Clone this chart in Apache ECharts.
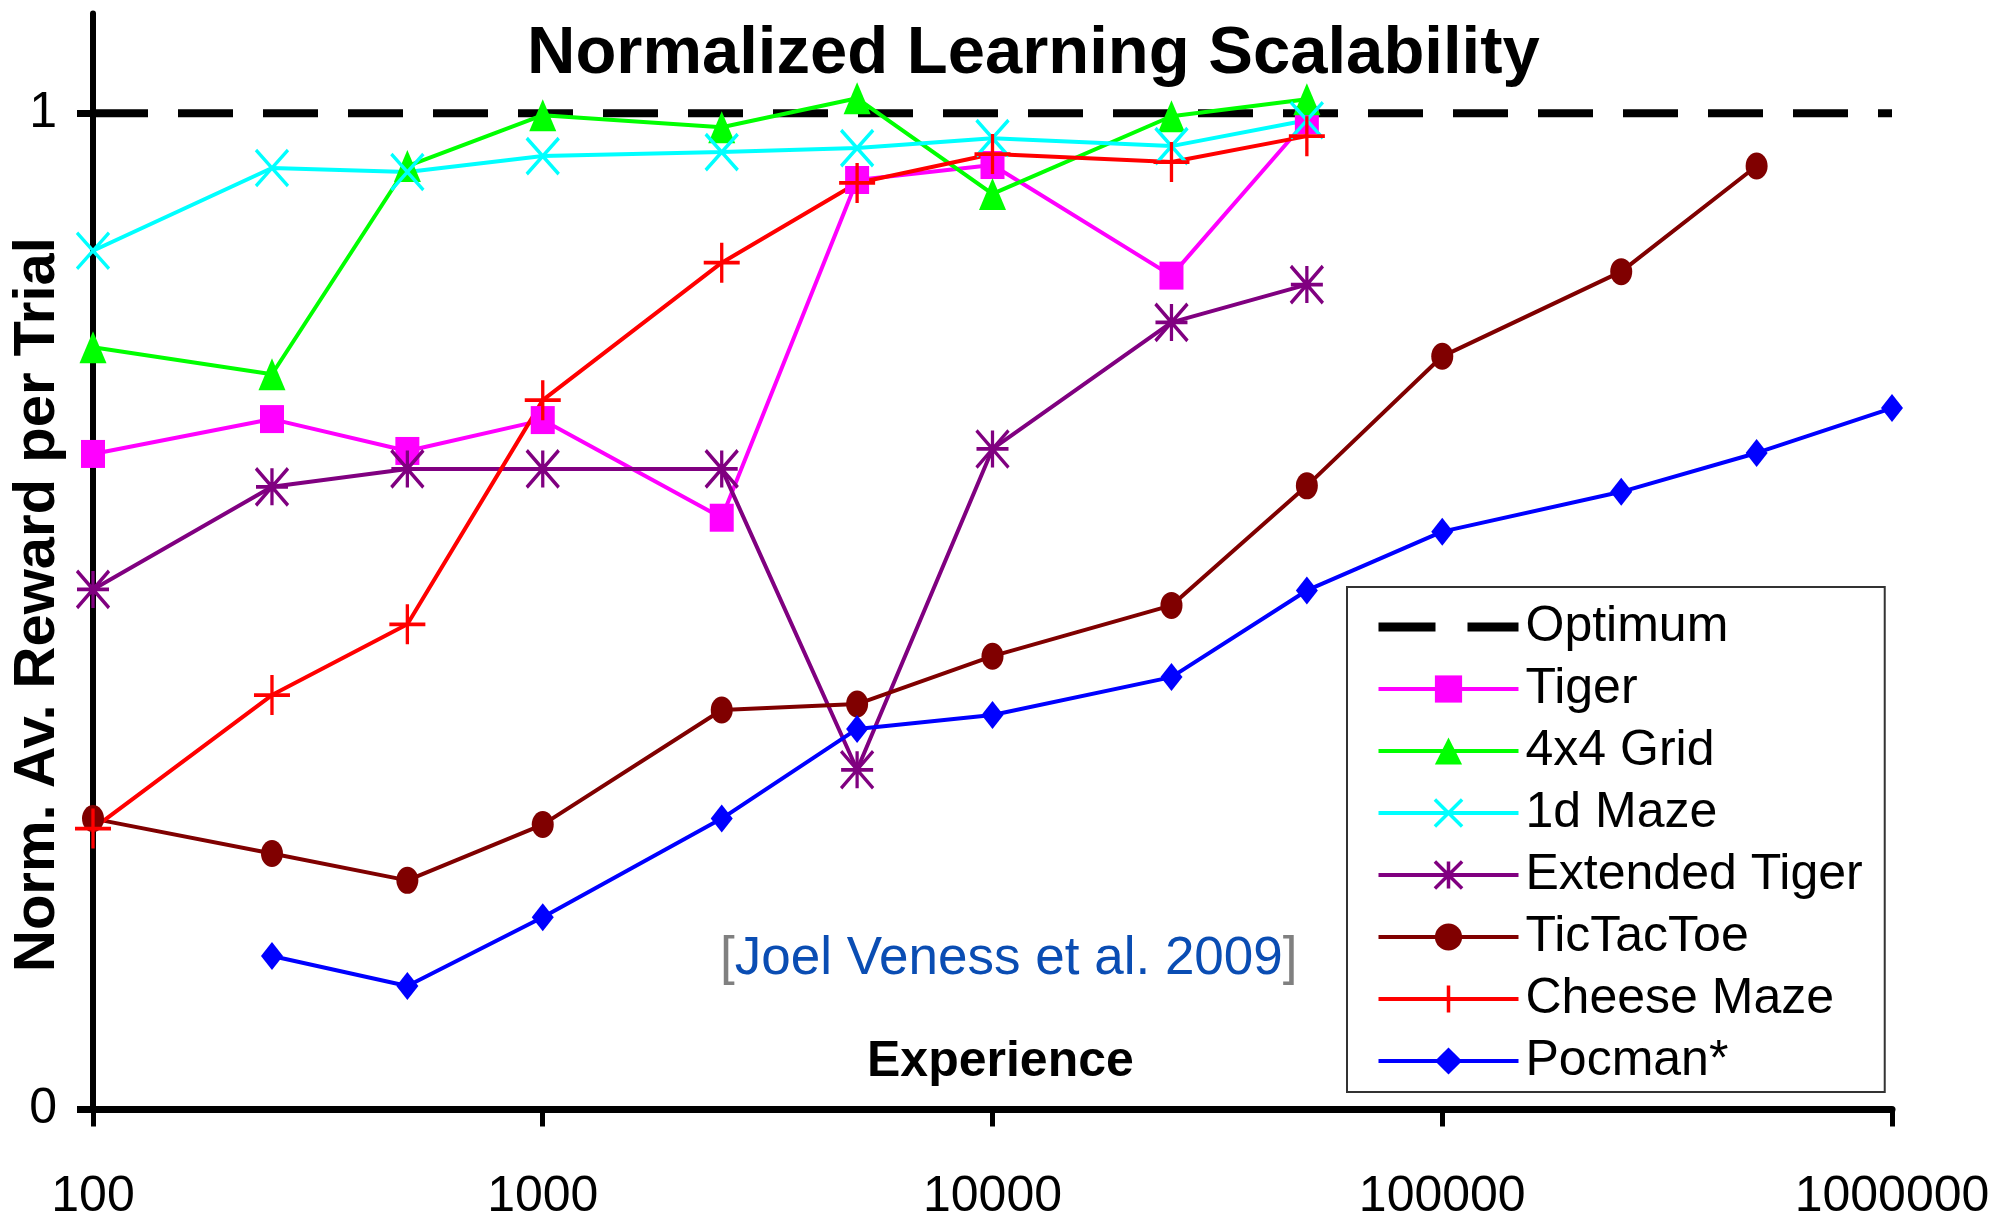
<!DOCTYPE html>
<html>
<head>
<meta charset="utf-8">
<title>Normalized Learning Scalability</title>
<script src="https://cdn.jsdelivr.net/npm/echarts@6/dist/echarts.min.js"></script>
<style>
html, body { margin: 0; padding: 0; background: #fff; }
#main { width: 1995px; height: 1219px; }
</style>
</head>
<body>
<div id="main"></div>
<script>
// experience values on the x axis (log scale)
var experience = [100, 250, 500, 1000, 2500, 5000, 10000, 25000, 50000, 100000, 250000, 500000, 1000000]
var xTicks = [100, 1000, 10000, 100000, 1000000]
var yTicks = [0, 1]

// normalised average reward per trial
var tiger = [0.658, 0.693, 0.661, 0.692, 0.594, 0.933, 0.948, 0.837, 0.993]
var grid4x4 = [0.765, 0.738, 0.947, 0.998, 0.986, 1.015, 0.919, 0.997, 1.014]
var maze1d = [0.862, 0.945, 0.941, 0.957, 0.961, 0.965, 0.975, 0.967, 0.993]
var extTiger = [0.522, 0.625, 0.643, 0.643, 0.643, 0.341, 0.663, 0.790, 0.828]
var ticTacToe = [0.292, 0.257, 0.230, 0.286, 0.401, 0.407, 0.455, 0.506, 0.626, 0.756, 0.841, 0.947]
var cheeseMaze = [0.282, 0.416, 0.487, 0.712, 0.850, 0.930, 0.959, 0.951, 0.977]
var pocman = [0.154, 0.124, 0.193, 0.292, 0.382, 0.396, 0.434, 0.521, 0.580, 0.620, 0.659, 0.704]
var optimum = [1, 1]
var optimumX = [100, 1000000]

var SANS = "'Liberation Sans', Arial, sans-serif"

// pair values with x positions, first value sits at experience[start]
function pairs (values, start, xs) {
  xs = xs || experience
  var out = []
  for (var i = 0; i < values.length; i++) {
    out.push([xs[start + i], values[i]])
  }
  return out
}

var SYM_X = 'path://M0,0L10,10M10,0L0,10'
var SYM_PLUS = 'path://M5,0L5,10M0,5L10,5'
var SYM_STAR = 'path://M5,0L5,10M0,0L10,10M10,0L0,10M0,5L10,5'
var SYM_ELLIPSE = 'path://M0,10A10,10,0,1,1,20,10A10,10,0,1,1,0,10Z'

function filled (name, color, data, symbol, size) {
  return {
    name: name,
    type: 'line',
    data: data,
    symbol: symbol,
    symbolSize: size,
    lineStyle: { color: color, width: 4 },
    itemStyle: { color: color, borderWidth: 0 },
    emphasis: { disabled: true }
  }
}

function stroked (name, color, data, symbol, size) {
  return {
    name: name,
    type: 'line',
    data: data,
    symbol: symbol,
    symbolSize: size,
    lineStyle: { color: color, width: 4 },
    itemStyle: { color: 'rgba(0,0,0,0)', borderColor: color, borderWidth: 3.5 },
    emphasis: { disabled: true }
  }
}

var chart = echarts.init(document.getElementById('main'))
chart.setOption({
  animation: false,
  backgroundColor: '#ffffff',
  title: [
    {
      text: 'Normalized Learning Scalability',
      left: 527,
      top: 21,
      padding: 0,
      textStyle: { fontFamily: SANS, fontWeight: 'bold', fontSize: 67, color: '#000' }
    },
    {
      text: 'Experience',
      left: 867,
      top: 1037,
      padding: 0,
      textStyle: { fontFamily: SANS, fontWeight: 'bold', fontSize: 50, color: '#000' }
    },
    {
      text: '{b|[}Joel Veness et al. 2009{b|]}',
      left: 720,
      top: 933,
      padding: 0,
      textStyle: {
        fontFamily: SANS,
        fontWeight: 'normal',
        fontSize: 53,
        color: '#0a4db3',
        rich: { b: { fontFamily: SANS, fontWeight: 'normal', fontSize: 53, color: '#808080' } }
      }
    }
  ],
  grid: { left: 93, right: 103, top: 13.6, bottom: 109.5, containLabel: false, outerBoundsMode: 'none' },
  xAxis: {
    type: 'log',
    logBase: 10,
    min: 100,
    max: 1000000,
    axisLine: { lineStyle: { color: '#000', width: 7 } },
    axisTick: { length: 17, lineStyle: { color: '#000', width: 5 } },
    minorTick: { show: false },
    splitLine: { show: false },
    axisLabel: {
      margin: 63,
      fontFamily: SANS,
      fontSize: 50,
      color: '#000',
      formatter: function (v) { return String(Math.round(v)) }
    }
  },
  yAxis: {
    type: 'value',
    min: 0,
    max: 1.1,
    name: 'Norm. Av. Reward per Trial',
    nameLocation: 'middle',
    nameRotate: 90,
    nameGap: 26,
    nameMoveOverlap: false,
    nameTextStyle: { fontFamily: SANS, fontWeight: 'bold', fontSize: 58, color: '#000', padding: [0, 86, 0, 0] },
    axisLine: { show: true, lineStyle: { color: '#000', width: 6 } },
    axisTick: { show: true, length: 16, customValues: yTicks, lineStyle: { color: '#000', width: 7 } },
    axisLabel: { margin: 36, customValues: yTicks, fontFamily: SANS, fontSize: 50, color: '#000' },
    splitLine: { show: false }
  },
  legend: {
    orient: 'vertical',
    left: 1347,
    top: 587,
    padding: [9, 22, 0, 27],
    itemWidth: 140,
    itemHeight: 34,
    itemGap: 0,
    backgroundColor: '#fff',
    borderColor: '#333',
    borderWidth: 2,
    borderRadius: 0,
    selectedMode: false,
    lineStyle: { width: 4 },
    textStyle: { fontFamily: SANS, fontSize: 50, color: '#000', lineHeight: 62, padding: [0, 0, 0, 2] },
    data: [
      { name: 'Optimum', itemStyle: { opacity: 0 }, lineStyle: { width: 9, type: [57, 32] } },
      { name: 'Tiger' },
      { name: '4x4 Grid' },
      { name: '1d Maze', itemStyle: { borderWidth: 3.5 } },
      { name: 'Extended Tiger', itemStyle: { borderWidth: 3.5 } },
      { name: 'TicTacToe' },
      { name: 'Cheese Maze', itemStyle: { borderWidth: 3.5 } },
      { name: 'Pocman*' }
    ]
  },
  series: [
    {
      name: 'Optimum',
      type: 'line',
      data: pairs(optimum, 0, optimumX),
      symbol: 'none',
      lineStyle: { color: '#000', width: 8, type: [55, 30], cap: 'butt' },
      itemStyle: { color: '#000' },
      emphasis: { disabled: true }
    },
    filled('Tiger', '#ff00ff', pairs(tiger, 0), 'rect', [24, 28]),
    filled('4x4 Grid', '#00ff00', pairs(grid4x4, 0), 'triangle', [27, 32]),
    stroked('1d Maze', '#00ffff', pairs(maze1d, 0), SYM_X, [32, 36]),
    stroked('Extended Tiger', '#800080', pairs(extTiger, 0), SYM_STAR, [32, 37]),
    filled('TicTacToe', '#800000', pairs(ticTacToe, 0), SYM_ELLIPSE, [22, 27]),
    stroked('Cheese Maze', '#ff0000', pairs(cheeseMaze, 0), SYM_PLUS, [36, 40]),
    filled('Pocman*', '#0000ff', pairs(pocman, 1), 'diamond', [22, 28])
  ]
})
window.onresize = chart.resize
</script>
</body>
</html>
